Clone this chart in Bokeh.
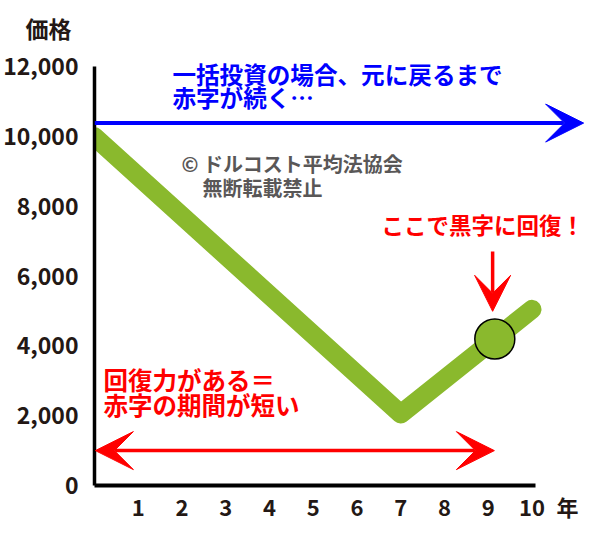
from bokeh.plotting import figure
from bokeh.models import Range1d, FixedTicker, NumeralTickFormatter, Arrow, VeeHead
from bokeh.core.properties import value
from bokeh.embed import file_html
from bokeh.resources import INLINE

# ---- data ----
years = [0, 7, 10]
prices = [10000, 2050, 5050]
x_ticks = [1, 2, 3, 4, 5, 6, 7, 8, 9, 10]
x_tick_labels = ["1", "2", "3", "4", "5", "6", "7", "8", "9", "10"]
unit_tick = 10.81
unit_label = "年"
y_ticks = [0, 2000, 4000, 6000, 8000, 10000, 12000]
y_title = "価格"

recovery_x = [9.15]
recovery_y = [4200]

lump_arrow_y = 10390
lump_arrow_x = (0.0, 11.18)
short_arrow_y = 1000
short_arrow_x = (0.02, 9.14)
down_arrow_x = 9.1
down_arrow_y = (6707, 4994)

blue_lines = ["一括投資の場合、元に戻るまで", "赤字が続く…"]
blue_x = [1.78, 1.78]
blue_y = [11787, 11130]

gray_lines = ["© ドルコスト平均法協会", "無断転載禁止"]
gray_x = [1.99, 2.47]
gray_y = [9218, 8533]

red_top_lines = ["ここで黒字に回復！"]
red_top_x = [6.56]
red_top_y = [7506]

red_left_lines = ["回復力がある＝", "赤字の期間が短い"]
red_left_x = [0.206, 0.206]
red_left_y = [3025, 2312]

GREEN = "#8ab92d"
BLUE = "#0000ff"
RED = "#ff0000"
INK = "#231815"
GRAY = "#595757"
CJK = "Noto Sans CJK JP"

W, H = 584, 524
p = figure(width=W, height=H, output_backend="svg", toolbar_location=None,
           x_range=Range1d(0, 11.2), y_range=Range1d(0, 12614),
           min_border_left=94, min_border_right=0, min_border_top=45, min_border_bottom=37)
p.outline_line_color = None
p.xgrid.visible = False
p.ygrid.visible = False
p.background_fill_color = "white"

# title (価格)
p.title.text = y_title
p.title.text_font = CJK
p.title.text_font_style = "bold"
p.title.text_font_size = "23px"
p.title.text_color = INK
p.title.align = "left"
p.title.offset = -69
p.title.standoff = 2

# axes
for ax in (p.xaxis, p.yaxis):
    ax.major_tick_line_color = None
    ax.minor_tick_line_color = None
    ax.major_tick_out = 0
    ax.major_tick_in = 0
    ax.axis_line_color = "black"
    ax.major_label_text_color = INK
    ax.major_label_text_font_style = "bold"
    ax.major_label_text_font = CJK

p.xaxis.ticker = FixedTicker(ticks=x_ticks + [unit_tick])
ov = {float(t): l for t, l in zip(x_ticks, x_tick_labels)}
ov[unit_tick] = unit_label
p.xaxis.major_label_overrides = ov
p.xaxis.bounds = (0, 10.08)
p.xaxis.axis_line_width = 4
p.xaxis.major_label_text_font_size = "22px"
p.xaxis.major_label_standoff = 4

p.yaxis.ticker = FixedTicker(ticks=y_ticks)
p.yaxis.formatter = NumeralTickFormatter(format="0,0")
p.yaxis.bounds = (0, 12000)
p.yaxis.axis_line_width = 3.5
p.yaxis.major_label_text_font_size = "23px"
p.yaxis.major_label_standoff = 16

# price line
p.line(years, prices, line_color=GREEN, line_width=19, line_cap="round", line_join="round")
p.scatter(recovery_x, recovery_y, size=40, fill_color=GREEN, line_color="black", line_width=1.5)

# arrows
p.add_layout(Arrow(end=VeeHead(size=38, fill_color=BLUE, line_color=BLUE),
                   x_start=lump_arrow_x[0], y_start=lump_arrow_y,
                   x_end=lump_arrow_x[1], y_end=lump_arrow_y,
                   line_color=BLUE, line_width=4))
p.add_layout(Arrow(start=VeeHead(size=38, fill_color=RED, line_color=RED),
                   end=VeeHead(size=38, fill_color=RED, line_color=RED),
                   x_start=short_arrow_x[0], y_start=short_arrow_y,
                   x_end=short_arrow_x[1], y_end=short_arrow_y,
                   line_color=RED, line_width=3.5))
p.add_layout(Arrow(end=VeeHead(size=36, fill_color=RED, line_color=RED),
                   x_start=down_arrow_x, y_start=down_arrow_y[0],
                   x_end=down_arrow_x, y_end=down_arrow_y[1],
                   line_color=RED, line_width=3.5))

# texts
def txt(xs, ys, texts, color, size):
    p.text(xs, ys, text=texts, text_color=color, text_font=value(CJK),
           text_font_style="bold", text_font_size=size,
           text_align="left", text_baseline="middle")

txt(blue_x, blue_y, blue_lines, BLUE, "23.6px")
txt(gray_x, gray_y, gray_lines, GRAY, "20px")
txt(red_top_x, red_top_y, red_top_lines, RED, "22.5px")
txt(red_left_x, red_left_y, red_left_lines, RED, "24.5px")

open("out.html", "w").write(file_html(p, INLINE))
